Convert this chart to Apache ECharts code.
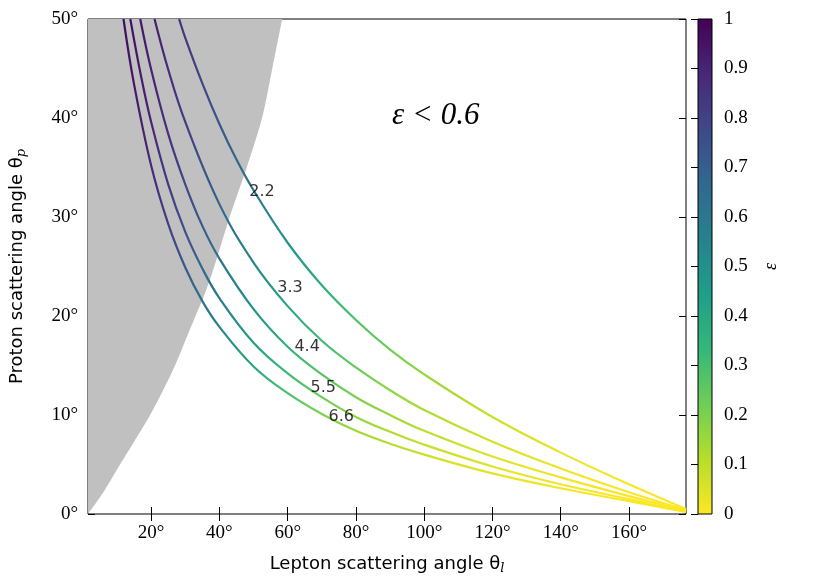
<!DOCTYPE html>
<html>
<head>
<meta charset="utf-8">
<script src="https://cdn.jsdelivr.net/npm/echarts@6/dist/echarts.min.js"></script>
<style>html,body{margin:0;padding:0;background:#fff}</style>
</head>
<body>
<div id="main" style="width:831px;height:586px"></div>
<script>
// [lepton angle, proton angle, epsilon]
var e22 = [[28.2,50,0.86],[30,48.1,0.84],[35,43.5,0.79],[40,39.4,0.73],[45,35.8,0.67],[50,32.7,0.6],[60,27.4,0.48],[70,23.1,0.38],[80,19.6,0.29],[90,16.6,0.22],[100,14.1,0.16],[120,9.8,0.08],[140,6.2,0.033],[160,3.0,0.008],[176.7,0.5,0]];
var e33 = [[21.0,50,0.92],[25,44.9,0.88],[30,39.6,0.82],[40,31.3,0.68],[50,25.4,0.54],[60,21.0,0.41],[70,17.5,0.32],[80,14.8,0.235],[90,12.5,0.17],[100,10.5,0.127],[120,7.3,0.063],[140,4.6,0.025],[160,2.2,0.006],[176.7,0.4,0]];
var e44 = [[16.8,50,0.94],[20,44.9,0.91],[25,38.4,0.86],[30,33.3,0.785],[35,29.1,0.71],[40,25.8,0.63],[50,20.7,0.49],[60,16.9,0.36],[70,14.1,0.27],[80,11.8,0.2],[90,10.0,0.15],[100,8.4,0.105],[120,5.8,0.052],[140,3.7,0.02],[160,1.8,0.005],[176.7,0.3,0]];
var e55 = [[13.9,50,0.96],[17,44.3,0.93],[20,39.6,0.9],[25,33.3,0.83],[30,28.5,0.75],[35,24.8,0.67],[40,21.8,0.58],[50,17.3,0.44],[60,14.2,0.32],[70,11.8,0.23],[80,9.8,0.17],[90,8.3,0.12],[100,7.0,0.09],[120,4.8,0.044],[140,3.0,0.017],[160,1.5,0.004],[176.7,0.2,0]];
var e66 = [[11.9,50,0.97],[15,43.4,0.94],[20,35.2,0.89],[25,29.3,0.81],[30,24.9,0.72],[35,21.5,0.63],[40,18.9,0.54],[50,14.9,0.4],[60,12.2,0.29],[70,10.1,0.2],[80,8.4,0.15],[90,7.1,0.11],[100,6.0,0.079],[120,4.1,0.038],[140,2.6,0.015],[160,1.3,0.004],[176.7,0.2,0]];
var energies = ['2.2','3.3','4.4','5.5','6.6'];
var labelPos = [[52.5,32.5],[60.7,22.8],[65.7,16.9],[70.4,12.7],[75.7,9.8]];
// epsilon = 0.6 boundary
var cut = [[1.5,0],[6,2.2],[10,4.5],[15,7.3],[19.7,10],[23.5,12.5],[27,15],[30,17.5],[33,20],[36,22.5],[38.5,25],[43,30],[48,35],[52.5,40],[55.5,45],[58.4,50]];
var xTicks = [20,40,60,80,100,120,140,160];
var viridis = ['#440154','#482878','#3e4989','#31688e','#26828e','#1f9e89','#35b779','#6ece58','#b5de2b','#fde725'];

var chart = echarts.init(document.getElementById('main'));
var serif = 'Liberation Serif';
var epsColors = viridis.slice().reverse();
function deg(v){ return v + '°'; }
var curveData = [e22,e33,e44,e55,e66];
var curves = curveData.map(function(d){
  return {type:'line', data:d, smooth:0.4, symbol:'none', lineStyle:{width:2.2, color:'#000'}, z:3};
});
var gradStops = viridis.map(function(c,i){ return {offset:i/(viridis.length-1), color:c}; });

chart.setOption({
  animation:false,
  grid:[
    {left:88, top:19, width:598, height:495, show:true, borderColor:'#000', borderWidth:1},
    {left:698, top:19, width:14, height:495, show:true, borderColor:'#000', borderWidth:1}
  ],
  xAxis:[
    {gridIndex:0, type:'value', min:1.5, max:176.7, axisLine:{show:false}, splitLine:{show:false},
     axisTick:{inside:true, length:7, customValues:xTicks, lineStyle:{color:'#000'}},
     axisLabel:{customValues:xTicks, formatter:deg, color:'#000', fontFamily:serif, fontSize:19, margin:10},
     name:'Lepton scattering angle θ{s|l}', nameLocation:'middle', nameGap:40,
     nameTextStyle:{fontFamily:'DejaVu Sans', fontSize:18, color:'#000', rich:{s:{fontSize:13, fontFamily:'DejaVu Serif', fontStyle:'italic', padding:[8,0,0,0]}}}},
    {gridIndex:0, type:'value', position:'top', min:1.5, max:176.7, axisLine:{show:false}, splitLine:{show:false},
     axisTick:{inside:true, length:7, customValues:xTicks, lineStyle:{color:'#000'}}, axisLabel:{show:false}},
    {gridIndex:1, type:'value', min:0, max:1, show:false}
  ],
  yAxis:[
    {gridIndex:0, type:'value', min:0, max:50, interval:10, axisLine:{show:false}, splitLine:{show:false},
     axisTick:{inside:true, length:7, lineStyle:{color:'#000'}},
     axisLabel:{formatter:deg, color:'#000', fontFamily:serif, fontSize:19, margin:10},
     name:'Proton scattering angle θ{s|p}', nameLocation:'middle', nameGap:60,
     nameTextStyle:{fontFamily:'DejaVu Sans', fontSize:18, color:'#000', rich:{s:{fontSize:13, fontFamily:'DejaVu Serif', fontStyle:'italic', padding:[8,0,0,0]}}}},
    {gridIndex:0, type:'value', position:'right', min:0, max:50, interval:10, axisLine:{show:false}, splitLine:{show:false},
     axisTick:{inside:true, length:7, lineStyle:{color:'#000'}}, axisLabel:{show:false}},
    {gridIndex:1, type:'value', position:'right', min:0, max:1, interval:0.1, axisLine:{show:false}, splitLine:{show:false},
     axisTick:{inside:true, length:7, lineStyle:{color:'#000'}},
     axisLabel:{color:'#000', fontFamily:serif, fontSize:19, margin:12, formatter:function(v){return Math.round(v*10)/10;}},
     name:'ε', nameLocation:'middle', nameGap:50, nameRotate:90,
     nameTextStyle:{fontFamily:serif, fontStyle:'italic', fontSize:18, color:'#000'}}
  ],
  graphic:[
    {type:'rect', shape:{x:698, y:19, width:14, height:495}, style:{fill:new echarts.graphic.LinearGradient(0,0,0,1,gradStops)}, z:-1},
    {type:'text', left:392, top:100, style:{text:'ε < 0.6', font:'italic 31px "Liberation Serif"', fill:'#000'}}
  ],
  series:[
    {type:'line', data:cut, smooth:0.3, symbol:'none', lineStyle:{width:0}, areaStyle:{color:'#c0c0c0', opacity:1, origin:'end'}, z:1}
  ].concat(curves).concat([
    {type:'scatter', symbolSize:0, z:5,
     data:labelPos.map(function(p,i){ return {value:p, name:energies[i]}; }),
     label:{show:true, position:'inside', formatter:'{b}', fontFamily:'DejaVu Sans', fontSize:16, color:'#000'}}
  ])
});

// colour each curve by epsilon along its pixel x range
var colored = curveData.map(function(d){
  var x0 = chart.convertToPixel({gridIndex:0}, [d[0][0], d[0][1]])[0];
  var x1 = chart.convertToPixel({gridIndex:0}, [d[d.length-1][0], d[d.length-1][1]])[0];
  var stops = d.map(function(p){
    var px = chart.convertToPixel({gridIndex:0}, [p[0], p[1]])[0];
    return {offset:(px-x0)/(x1-x0), color:echarts.color.lerp(p[2], epsColors)};
  });
  return {lineStyle:{color:new echarts.graphic.LinearGradient(x0,0,x1,0,stops,true)}};
});
chart.setOption({series:[{}].concat(colored)});
</script>
</body>
</html>
